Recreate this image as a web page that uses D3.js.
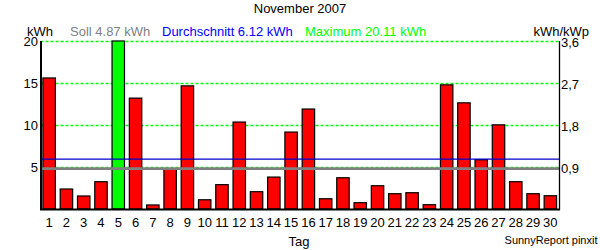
<!DOCTYPE html>
<html><head><meta charset="utf-8">
<script src="https://cdn.jsdelivr.net/npm/d3@7"></script>
<style>
html,body{margin:0;padding:0;background:#fff;}
text{font-family:"Liberation Sans",Arial,sans-serif;}
</style>
</head><body>
<svg id="c" width="600" height="250"></svg>
<script>
const days = d3.range(1, 31).map(String);
const values = [15.6, 2.38, 1.55, 3.25, 20.11, 13.2, 0.48, 4.8, 14.66, 1.1,
                2.9, 10.35, 2.06, 3.8, 9.16, 11.9, 1.22, 3.72, 0.75, 2.77,
                1.82, 1.94, 0.51, 14.78, 12.64, 5.86, 10.02, 3.25, 1.82, 1.58];
const leftTicks = [5, 10, 15, 20];
const rightTicks = [0.9, 1.8, 2.7, 3.6];
const soll = 4.87, avg = 6.12, maxVal = 20.11;
const title = "November 2007";

const svg = d3.select("#c");
const x0 = 40.5, x1 = 559, yTop = 41, yBot = 209;
const x = d3.scaleBand().domain(days).range([x0, x1]).paddingInner(0.28).paddingOuter(0.14);
const y = d3.scaleLinear().domain([0, 20]).range([yBot, yTop]);
const yR = d3.scaleLinear().domain([0, 3.6]).range([yBot, yTop]);

// title
svg.append("text").attr("x", 300).attr("y", 12.5).attr("text-anchor", "middle")
  .attr("font-size", 13).text(title);

// header
const hdr = [
  {t: "kWh", x: 27, c: "#000", a: "start"},
  {t: "Soll " + soll.toFixed(2) + " kWh", x: 70, c: "#808080", a: "start"},
  {t: "Durchschnitt " + avg.toFixed(2) + " kWh", x: 162, c: "#0000FF", a: "start"},
  {t: "Maximum " + maxVal.toFixed(2) + " kWh", x: 305, c: "#00FF00", a: "start"},
  {t: "kWh/kWp", x: 589, c: "#000", a: "end"}
];
svg.selectAll("text.hdr").data(hdr).join("text").attr("class", "hdr")
  .attr("x", d => d.x).attr("y", 35.5).attr("fill", d => d.c)
  .attr("text-anchor", d => d.a).attr("font-size", 13).text(d => d.t);

// grid lines
svg.selectAll("line.grid").data(leftTicks).join("line").attr("class", "grid")
  .attr("x1", x0).attr("x2", x1).attr("y1", d => Math.round(y(d)) + 0.5).attr("y2", d => Math.round(y(d)) + 0.5)
  .attr("stroke", "#00FF00").attr("stroke-width", 1.3).attr("stroke-dasharray", "3,2");

// bars
svg.selectAll("rect.bar").data(values).join("rect").attr("class", "bar")
  .attr("x", (d, i) => x(days[i]))
  .attr("width", x.bandwidth())
  .attr("y", d => y(Math.min(d, 20)))
  .attr("height", d => yBot - y(Math.min(d, 20)))
  .attr("fill", d => d === maxVal ? "#00FF00" : "#FF0000")
  .attr("stroke", "#000").attr("stroke-width", 1.2);

// average & soll lines
svg.append("line").attr("x1", x0).attr("x2", x1).attr("y1", y(avg) + 1.5).attr("y2", y(avg) + 1.5)
  .attr("stroke", "#0000C8").attr("stroke-width", 1.2);
svg.append("line").attr("x1", x0).attr("x2", x1).attr("y1", y(soll) + 0.5).attr("y2", y(soll) + 0.5)
  .attr("stroke", "#808080").attr("stroke-width", 2.6);

// axes lines
svg.append("line").attr("x1", 41).attr("x2", 41).attr("y1", yTop).attr("y2", yBot + 1)
  .attr("stroke", "#000").attr("stroke-width", 2);
svg.append("line").attr("x1", 559.5).attr("x2", 559.5).attr("y1", yTop).attr("y2", yBot + 1)
  .attr("stroke", "#000").attr("stroke-width", 1.3);
svg.append("line").attr("x1", 40).attr("x2", 560).attr("y1", yBot + 0.5).attr("y2", yBot + 0.5)
  .attr("stroke", "#000").attr("stroke-width", 2);

// left tick labels
svg.selectAll("text.lt").data(leftTicks).join("text").attr("class", "lt")
  .attr("x", 38).attr("y", d => y(d) + 5).attr("text-anchor", "end")
  .attr("font-size", 13).text(d => d);
// right tick labels
svg.selectAll("text.rt").data(rightTicks).join("text").attr("class", "rt")
  .attr("x", 561).attr("y", d => yR(d) + 5.5).attr("text-anchor", "start")
  .attr("font-size", 13).text(d => d.toFixed(1).replace(".", ","));
// x tick labels
svg.selectAll("text.xt").data(days).join("text").attr("class", "xt")
  .attr("x", d => x(d) + x.bandwidth() / 2).attr("y", 227).attr("text-anchor", "middle")
  .attr("font-size", 13).text(d => d);

svg.append("text").attr("x", 299).attr("y", 246).attr("text-anchor", "middle")
  .attr("font-size", 13).text("Tag");
svg.append("text").attr("x", 597.5).attr("y", 243.5).attr("text-anchor", "end")
  .attr("font-size", 11).text("SunnyReport pinxit");
</script>
</body></html>
